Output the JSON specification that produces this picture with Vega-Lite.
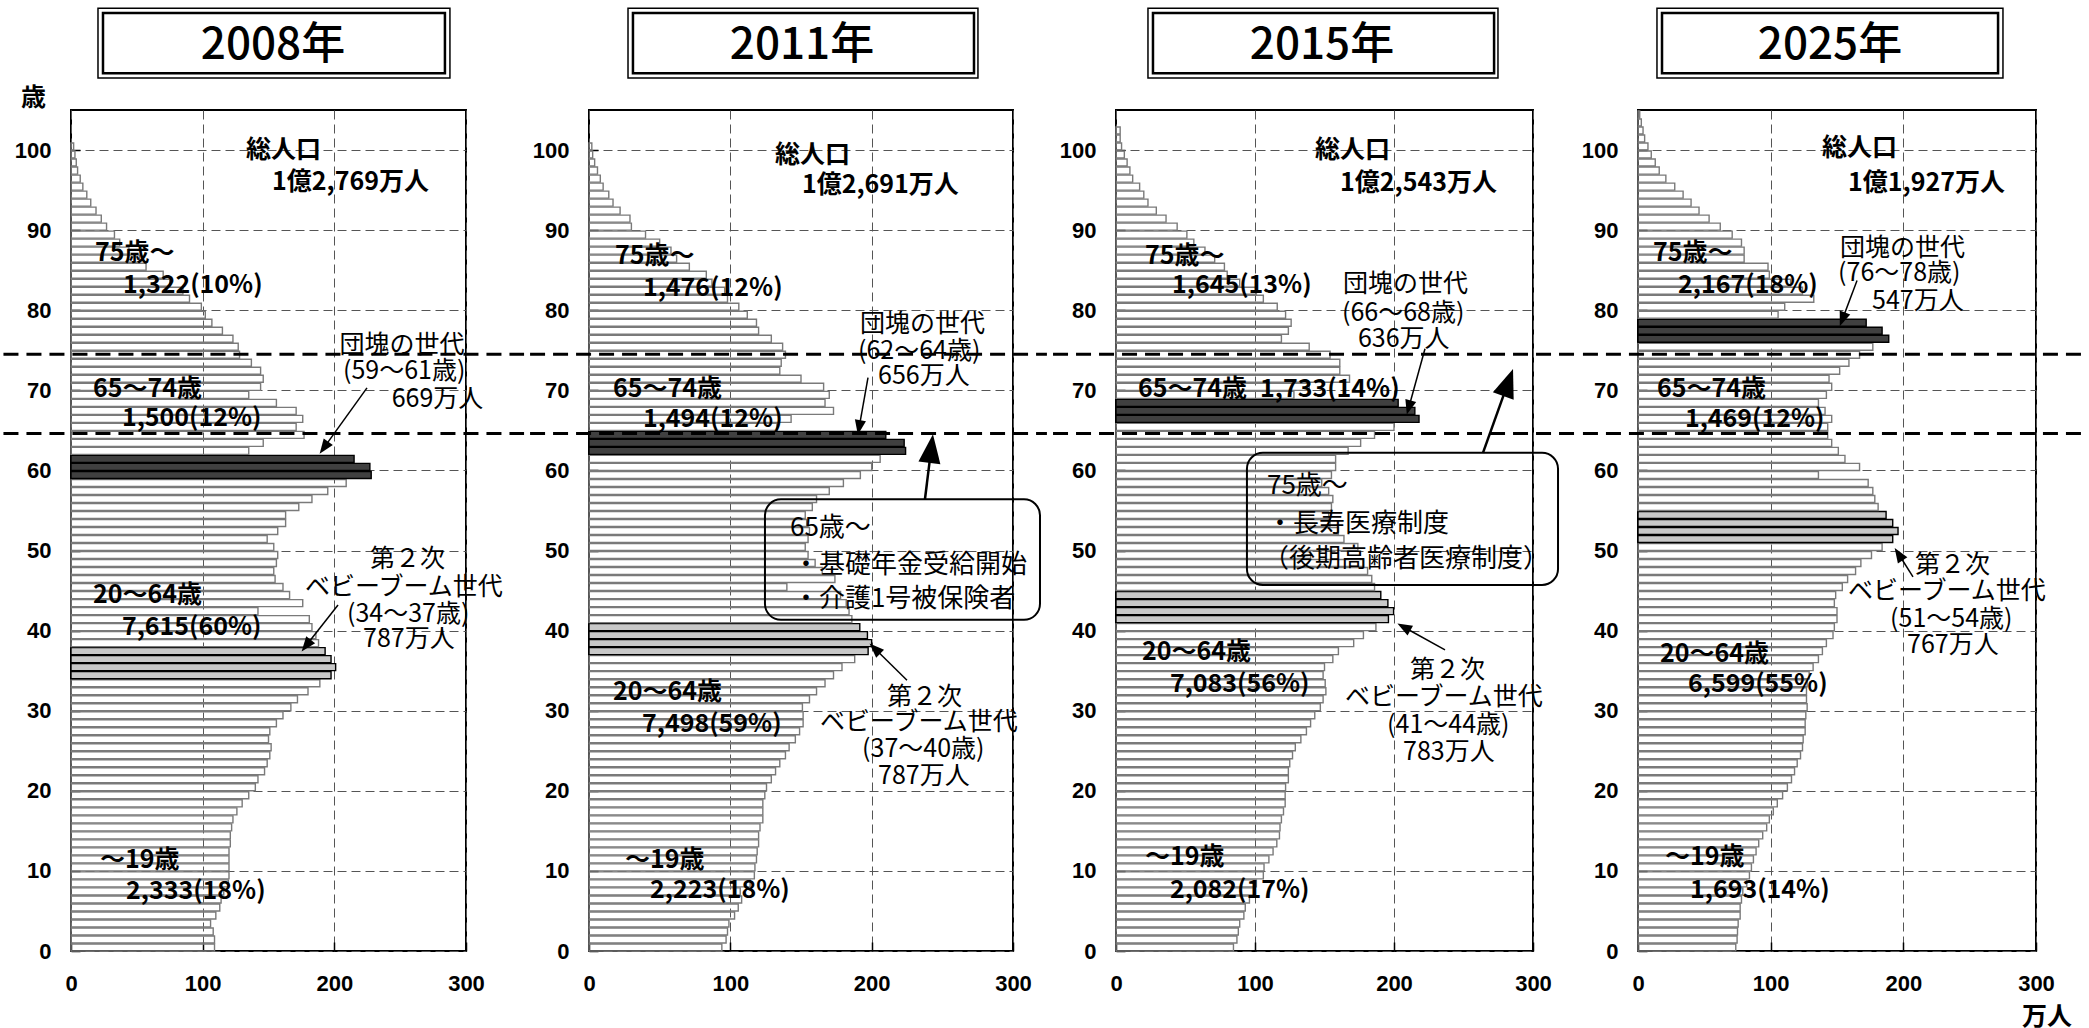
{
"$schema":"https://vega.github.io/schema/vega-lite/v6.json",
"background":"white",
"padding":{"left":0,"top":6,"right":0,"bottom":0},
"spacing":0,
"datasets":{
"p08":[{"a":0,"v":109,"g":"n"},{"a":1,"v":109,"g":"n"},{"a":2,"v":108,"g":"n"},{"a":3,"v":106,"g":"n"},{"a":4,"v":110,"g":"n"},{"a":5,"v":113,"g":"n"},{"a":6,"v":114,"g":"n"},{"a":7,"v":116,"g":"n"},{"a":8,"v":119.5,"g":"n"},{"a":9,"v":120,"g":"n"},
{"a":10,"v":120,"g":"n"},{"a":11,"v":120,"g":"n"},{"a":12,"v":120,"g":"n"},{"a":13,"v":121,"g":"n"},{"a":14,"v":121,"g":"n"},{"a":15,"v":122,"g":"n"},{"a":16,"v":123,"g":"n"},{"a":17,"v":126,"g":"n"},{"a":18,"v":130,"g":"n"},{"a":19,"v":135,"g":"n"},
{"a":20,"v":140,"g":"n"},{"a":21,"v":142,"g":"n"},{"a":22,"v":147,"g":"n"},{"a":23,"v":149,"g":"n"},{"a":24,"v":151,"g":"n"},{"a":25,"v":152,"g":"n"},{"a":26,"v":150,"g":"n"},{"a":27,"v":151,"g":"n"},{"a":28,"v":156,"g":"n"},{"a":29,"v":161,"g":"n"},
{"a":30,"v":167,"g":"n"},{"a":31,"v":172,"g":"n"},{"a":32,"v":180,"g":"n"},{"a":33,"v":189,"g":"n"},{"a":34,"v":197.5,"g":"l"},{"a":35,"v":201,"g":"l"},{"a":36,"v":197.5,"g":"l"},{"a":37,"v":193,"g":"l"},{"a":38,"v":188,"g":"n"},{"a":39,"v":186,"g":"n"},
{"a":40,"v":183,"g":"n"},{"a":41,"v":181,"g":"n"},{"a":42,"v":142,"g":"n"},{"a":43,"v":176,"g":"n"},{"a":44,"v":166,"g":"n"},{"a":45,"v":161,"g":"n"},{"a":46,"v":155,"g":"n"},{"a":47,"v":154,"g":"n"},{"a":48,"v":156,"g":"n"},{"a":49,"v":157,"g":"n"},
{"a":50,"v":154,"g":"n"},{"a":51,"v":149,"g":"n"},{"a":52,"v":157,"g":"n"},{"a":53,"v":163,"g":"n"},{"a":54,"v":163,"g":"n"},{"a":55,"v":173,"g":"n"},{"a":56,"v":183,"g":"n"},{"a":57,"v":195,"g":"n"},{"a":58,"v":209,"g":"n"},{"a":59,"v":228,"g":"d"},
{"a":60,"v":227,"g":"d"},{"a":61,"v":215,"g":"d"},{"a":62,"v":135,"g":"n"},{"a":63,"v":146,"g":"n"},{"a":64,"v":177,"g":"n"},{"a":65,"v":171,"g":"n"},{"a":66,"v":176,"g":"n"},{"a":67,"v":171,"g":"n"},{"a":68,"v":156,"g":"n"},{"a":69,"v":135,"g":"n"},
{"a":70,"v":144,"g":"n"},{"a":71,"v":146,"g":"n"},{"a":72,"v":144,"g":"n"},{"a":73,"v":137,"g":"n"},{"a":74,"v":128,"g":"n"},{"a":75,"v":127,"g":"n"},{"a":76,"v":123,"g":"n"},{"a":77,"v":115,"g":"n"},{"a":78,"v":107,"g":"n"},{"a":79,"v":102,"g":"n"},
{"a":80,"v":99,"g":"n"},{"a":81,"v":90,"g":"n"},{"a":82,"v":85,"g":"n"},{"a":83,"v":75,"g":"n"},{"a":84,"v":70,"g":"n"},{"a":85,"v":57,"g":"n"},{"a":86,"v":52,"g":"n"},{"a":87,"v":44,"g":"n"},{"a":88,"v":37,"g":"n"},{"a":89,"v":33,"g":"n"},
{"a":90,"v":27,"g":"n"},{"a":91,"v":23,"g":"n"},{"a":92,"v":19,"g":"n"},{"a":93,"v":15,"g":"n"},{"a":94,"v":12,"g":"n"},{"a":95,"v":9,"g":"n"},{"a":96,"v":7,"g":"n"},{"a":97,"v":5,"g":"n"},{"a":98,"v":4,"g":"n"},{"a":99,"v":3,"g":"n"},{"a":100,"v":2,"g":"n"}],
"p11":[{"a":0,"v":94,"g":"n"},{"a":1,"v":97,"g":"n"},{"a":2,"v":98,"g":"n"},{"a":3,"v":99,"g":"n"},{"a":4,"v":103,"g":"n"},{"a":5,"v":105.6,"g":"n"},{"a":6,"v":108,"g":"n"},{"a":7,"v":107,"g":"n"},{"a":8,"v":114,"g":"n"},{"a":9,"v":117,"g":"n"},
{"a":10,"v":117.4,"g":"n"},{"a":11,"v":118.5,"g":"n"},{"a":12,"v":119,"g":"n"},{"a":13,"v":120,"g":"n"},{"a":14,"v":120,"g":"n"},{"a":15,"v":121,"g":"n"},{"a":16,"v":123,"g":"n"},{"a":17,"v":123,"g":"n"},{"a":18,"v":123,"g":"n"},{"a":19,"v":124.4,"g":"n"},
{"a":20,"v":125.6,"g":"n"},{"a":21,"v":129,"g":"n"},{"a":22,"v":132,"g":"n"},{"a":23,"v":135,"g":"n"},{"a":24,"v":139,"g":"n"},{"a":25,"v":141.6,"g":"n"},{"a":26,"v":146,"g":"n"},{"a":27,"v":149,"g":"n"},{"a":28,"v":151.5,"g":"n"},{"a":29,"v":151.5,"g":"n"},
{"a":30,"v":151,"g":"n"},{"a":31,"v":156,"g":"n"},{"a":32,"v":161,"g":"n"},{"a":33,"v":167,"g":"n"},{"a":34,"v":173,"g":"n"},{"a":35,"v":179,"g":"n"},{"a":36,"v":188,"g":"n"},{"a":37,"v":197.5,"g":"l"},{"a":38,"v":200,"g":"l"},{"a":39,"v":197,"g":"l"},
{"a":40,"v":191.6,"g":"l"},{"a":41,"v":186,"g":"n"},{"a":42,"v":184,"g":"n"},{"a":43,"v":182,"g":"n"},{"a":44,"v":178,"g":"n"},{"a":45,"v":140,"g":"n"},{"a":46,"v":174,"g":"n"},{"a":47,"v":165,"g":"n"},{"a":48,"v":160,"g":"n"},{"a":49,"v":155,"g":"n"},
{"a":50,"v":153,"g":"n"},{"a":51,"v":155,"g":"n"},{"a":52,"v":156,"g":"n"},{"a":53,"v":154,"g":"n"},{"a":54,"v":153,"g":"n"},{"a":55,"v":158,"g":"n"},{"a":56,"v":161,"g":"n"},{"a":57,"v":170,"g":"n"},{"a":58,"v":180,"g":"n"},{"a":59,"v":192,"g":"n"},
{"a":60,"v":200,"g":"n"},{"a":61,"v":206,"g":"n"},{"a":62,"v":224,"g":"d"},{"a":63,"v":223,"g":"d"},{"a":64,"v":210,"g":"d"},{"a":65,"v":133,"g":"n"},{"a":66,"v":143,"g":"n"},{"a":67,"v":173,"g":"n"},{"a":68,"v":167,"g":"n"},{"a":69,"v":170,"g":"n"},
{"a":70,"v":166,"g":"n"},{"a":71,"v":150,"g":"n"},{"a":72,"v":135,"g":"n"},{"a":73,"v":136,"g":"n"},{"a":74,"v":139,"g":"n"},{"a":75,"v":137,"g":"n"},{"a":76,"v":129,"g":"n"},{"a":77,"v":120,"g":"n"},{"a":78,"v":118.5,"g":"n"},{"a":79,"v":112,"g":"n"},
{"a":80,"v":106,"g":"n"},{"a":81,"v":98,"g":"n"},{"a":82,"v":96,"g":"n"},{"a":83,"v":87,"g":"n"},{"a":84,"v":83,"g":"n"},{"a":85,"v":71,"g":"n"},{"a":86,"v":62,"g":"n"},{"a":87,"v":58,"g":"n"},{"a":88,"v":50,"g":"n"},{"a":89,"v":40,"g":"n"},
{"a":90,"v":30,"g":"n"},{"a":91,"v":29,"g":"n"},{"a":92,"v":22,"g":"n"},{"a":93,"v":17,"g":"n"},{"a":94,"v":14,"g":"n"},{"a":95,"v":10,"g":"n"},{"a":96,"v":8,"g":"n"},{"a":97,"v":6,"g":"n"},{"a":98,"v":4,"g":"n"},{"a":99,"v":2.6,"g":"n"},{"a":100,"v":2,"g":"n"}],
"p15":[{"a":0,"v":84.5,"g":"n"},{"a":1,"v":87,"g":"n"},{"a":2,"v":88,"g":"n"},{"a":3,"v":89,"g":"n"},{"a":4,"v":92,"g":"n"},{"a":5,"v":93,"g":"n"},{"a":6,"v":96,"g":"n"},{"a":7,"v":99,"g":"n"},{"a":8,"v":101,"g":"n"},{"a":9,"v":106,"g":"n"},
{"a":10,"v":106.5,"g":"n"},{"a":11,"v":110,"g":"n"},{"a":12,"v":113,"g":"n"},{"a":13,"v":115.7,"g":"n"},{"a":14,"v":117.6,"g":"n"},{"a":15,"v":118,"g":"n"},{"a":16,"v":119,"g":"n"},{"a":17,"v":120.5,"g":"n"},{"a":18,"v":121.7,"g":"n"},{"a":19,"v":121.7,"g":"n"},
{"a":20,"v":122,"g":"n"},{"a":21,"v":124,"g":"n"},{"a":22,"v":124,"g":"n"},{"a":23,"v":125,"g":"n"},{"a":24,"v":127,"g":"n"},{"a":25,"v":129,"g":"n"},{"a":26,"v":133,"g":"n"},{"a":27,"v":137,"g":"n"},{"a":28,"v":140,"g":"n"},{"a":29,"v":143,"g":"n"},
{"a":30,"v":147,"g":"n"},{"a":31,"v":149,"g":"n"},{"a":32,"v":151,"g":"n"},{"a":33,"v":150.5,"g":"n"},{"a":34,"v":149,"g":"n"},{"a":35,"v":150,"g":"n"},{"a":36,"v":156,"g":"n"},{"a":37,"v":160,"g":"n"},{"a":38,"v":171,"g":"n"},{"a":39,"v":178,"g":"n"},
{"a":40,"v":187,"g":"n"},{"a":41,"v":196,"g":"l"},{"a":42,"v":199.7,"g":"l"},{"a":43,"v":195.6,"g":"l"},{"a":44,"v":190.5,"g":"l"},{"a":45,"v":186,"g":"n"},{"a":46,"v":184,"g":"n"},{"a":47,"v":181,"g":"n"},{"a":48,"v":178,"g":"n"},{"a":49,"v":140,"g":"n"},
{"a":50,"v":174,"g":"n"},{"a":51,"v":164,"g":"n"},{"a":52,"v":160,"g":"n"},{"a":53,"v":154,"g":"n"},{"a":54,"v":153,"g":"n"},{"a":55,"v":155,"g":"n"},{"a":56,"v":156,"g":"n"},{"a":57,"v":153,"g":"n"},{"a":58,"v":148,"g":"n"},{"a":59,"v":155,"g":"n"},
{"a":60,"v":158,"g":"n"},{"a":61,"v":158,"g":"n"},{"a":62,"v":167,"g":"n"},{"a":63,"v":176,"g":"n"},{"a":64,"v":186,"g":"n"},{"a":65,"v":200,"g":"n"},{"a":66,"v":218,"g":"d"},{"a":67,"v":215,"g":"d"},{"a":68,"v":203,"g":"d"},{"a":69,"v":128,"g":"n"},
{"a":70,"v":139,"g":"n"},{"a":71,"v":168,"g":"n"},{"a":72,"v":161,"g":"n"},{"a":73,"v":161,"g":"n"},{"a":74,"v":154,"g":"n"},{"a":75,"v":139,"g":"n"},{"a":76,"v":119,"g":"n"},{"a":77,"v":124,"g":"n"},{"a":78,"v":126,"g":"n"},{"a":79,"v":122,"g":"n"},
{"a":80,"v":116,"g":"n"},{"a":81,"v":106,"g":"n"},{"a":82,"v":101,"g":"n"},{"a":83,"v":89,"g":"n"},{"a":84,"v":80,"g":"n"},{"a":85,"v":78,"g":"n"},{"a":86,"v":71,"g":"n"},{"a":87,"v":64,"g":"n"},{"a":88,"v":56,"g":"n"},{"a":89,"v":51,"g":"n"},
{"a":90,"v":44,"g":"n"},{"a":91,"v":36,"g":"n"},{"a":92,"v":29,"g":"n"},{"a":93,"v":23,"g":"n"},{"a":94,"v":20,"g":"n"},{"a":95,"v":17,"g":"n"},{"a":96,"v":12,"g":"n"},{"a":97,"v":10,"g":"n"},{"a":98,"v":8,"g":"n"},{"a":99,"v":6,"g":"n"},
{"a":100,"v":4,"g":"n"},{"a":101,"v":3,"g":"n"},{"a":102,"v":3,"g":"n"}],
"p25":[{"a":0,"v":73.7,"g":"n"},{"a":1,"v":74.7,"g":"n"},{"a":2,"v":75,"g":"n"},{"a":3,"v":75.5,"g":"n"},{"a":4,"v":77,"g":"n"},{"a":5,"v":77,"g":"n"},{"a":6,"v":78,"g":"n"},{"a":7,"v":79,"g":"n"},{"a":8,"v":82,"g":"n"},{"a":9,"v":84,"g":"n"},
{"a":10,"v":85.5,"g":"n"},{"a":11,"v":87,"g":"n"},{"a":12,"v":89,"g":"n"},{"a":13,"v":91,"g":"n"},{"a":14,"v":94,"g":"n"},{"a":15,"v":97,"g":"n"},{"a":16,"v":99,"g":"n"},{"a":17,"v":102,"g":"n"},{"a":18,"v":105,"g":"n"},{"a":19,"v":109,"g":"n"},
{"a":20,"v":112.6,"g":"n"},{"a":21,"v":115.7,"g":"n"},{"a":22,"v":118,"g":"n"},{"a":23,"v":120,"g":"n"},{"a":24,"v":122.5,"g":"n"},{"a":25,"v":124,"g":"n"},{"a":26,"v":124.5,"g":"n"},{"a":27,"v":126,"g":"n"},{"a":28,"v":126,"g":"n"},{"a":29,"v":126.5,"g":"n"},
{"a":30,"v":127.5,"g":"n"},{"a":31,"v":127,"g":"n"},{"a":32,"v":127,"g":"n"},{"a":33,"v":127.5,"g":"n"},{"a":34,"v":129,"g":"n"},{"a":35,"v":132,"g":"n"},{"a":36,"v":136,"g":"n"},{"a":37,"v":139,"g":"n"},{"a":38,"v":142,"g":"n"},{"a":39,"v":147,"g":"n"},
{"a":40,"v":148,"g":"n"},{"a":41,"v":150,"g":"n"},{"a":42,"v":150,"g":"n"},{"a":43,"v":148,"g":"n"},{"a":44,"v":149,"g":"n"},{"a":45,"v":154,"g":"n"},{"a":46,"v":158,"g":"n"},{"a":47,"v":164,"g":"n"},{"a":48,"v":168,"g":"n"},{"a":49,"v":176,"g":"n"},
{"a":50,"v":184,"g":"n"},{"a":51,"v":192,"g":"l"},{"a":52,"v":196,"g":"l"},{"a":53,"v":192,"g":"l"},{"a":54,"v":187,"g":"l"},{"a":55,"v":181,"g":"n"},{"a":56,"v":178.5,"g":"n"},{"a":57,"v":177,"g":"n"},{"a":58,"v":173.5,"g":"n"},{"a":59,"v":136,"g":"n"},
{"a":60,"v":167,"g":"n"},{"a":61,"v":156,"g":"n"},{"a":62,"v":151,"g":"n"},{"a":63,"v":146,"g":"n"},{"a":64,"v":143,"g":"n"},{"a":65,"v":143,"g":"n"},{"a":66,"v":146,"g":"n"},{"a":67,"v":141,"g":"n"},{"a":68,"v":136,"g":"n"},{"a":69,"v":142,"g":"n"},
{"a":70,"v":146,"g":"n"},{"a":71,"v":144,"g":"n"},{"a":72,"v":152,"g":"n"},{"a":73,"v":159,"g":"n"},{"a":74,"v":167,"g":"n"},{"a":75,"v":177,"g":"n"},{"a":76,"v":189,"g":"d"},{"a":77,"v":184,"g":"d"},{"a":78,"v":172,"g":"d"},{"a":79,"v":105.6,"g":"n"},
{"a":80,"v":110.6,"g":"n"},{"a":81,"v":132.5,"g":"n"},{"a":82,"v":124,"g":"n"},{"a":83,"v":115,"g":"n"},{"a":84,"v":99,"g":"n"},{"a":85,"v":98,"g":"n"},{"a":86,"v":80,"g":"n"},{"a":87,"v":80,"g":"n"},{"a":88,"v":78,"g":"n"},{"a":89,"v":71,"g":"n"},
{"a":90,"v":62,"g":"n"},{"a":91,"v":53.6,"g":"n"},{"a":92,"v":46,"g":"n"},{"a":93,"v":40,"g":"n"},{"a":94,"v":34,"g":"n"},{"a":95,"v":27.7,"g":"n"},{"a":96,"v":21,"g":"n"},{"a":97,"v":16,"g":"n"},{"a":98,"v":13,"g":"n"},{"a":99,"v":10,"g":"n"},
{"a":100,"v":7.5,"g":"n"},{"a":101,"v":5,"g":"n"},{"a":102,"v":3.8,"g":"n"},{"a":103,"v":2.5,"g":"n"},{"a":104,"v":1.3,"g":"n"}],
"dl":[{"p":"2008","x":-51.3,"x2":344.1,"y":64.6},{"p":"2008","x":-51.3,"x2":344.1,"y":74.5},
{"p":"2011","x":-41.7,"x2":324.0,"y":64.6},{"p":"2011","x":-41.7,"x2":324.0,"y":74.5},
{"p":"2015","x":-45.3,"x2":331.6,"y":64.6},{"p":"2015","x":-45.3,"x2":331.6,"y":74.5},
{"p":"2025","x":-41.5,"x2":338.9,"y":64.6},{"p":"2025","x":-41.5,"x2":338.9,"y":74.5}],
"ttl":[{"p":"2008","t":"2008年","tx":153.4,"ty":113.0,"ox1":20.5,"ox2":287.8,"oy1":117.7,"oy2":109.0,"ix1":24.3,"ix2":284,"iy1":117.1,"iy2":109.6},
{"p":"2011","t":"2011年","tx":150.7,"ty":113.0,"ox1":27.6,"ox2":275.2,"oy1":117.7,"oy2":109.0,"ix1":31.1,"ix2":272.4,"iy1":117.1,"iy2":109.6},
{"p":"2015","t":"2015年","tx":148.2,"ty":113.0,"ox1":23,"ox2":274.8,"oy1":117.7,"oy2":109.0,"ix1":26.6,"ix2":272,"iy1":117.1,"iy2":109.6},
{"p":"2025","t":"2025年","tx":144.7,"ty":113.0,"ox1":14.3,"ox2":275.1,"oy1":117.7,"oy2":109.0,"ix1":18.1,"ix2":271.4,"iy1":117.1,"iy2":109.6}],
"box":[{"p":"2011","x":124.5,"x2":319.1,"y":56.4,"y2":41.35},{"p":"2015","x":94.2,"x2":318,"y":62.2,"y2":45.7}],
"arr":[{"p":"2008","x1":224.8,"y1":70.3,"x2":192.7,"y2":62.97,"ang":215.9,"k":"s"},
{"p":"2008","x1":202.8,"y1":43.2,"x2":179.2,"y2":38.26,"ang":218,"k":"s"},
{"p":"2011","x1":197.4,"y1":71.6,"x2":191.3,"y2":65.53,"ang":190.1,"k":"s"},
{"p":"2011","x1":225,"y1":33.8,"x2":202.9,"y2":37.64,"ang":314.2,"k":"s"},
{"p":"2011","x1":237.7,"y1":56.4,"x2":241.9,"y2":62.42,"ang":7,"k":"b"},
{"p":"2015","x1":222.3,"y1":75.2,"x2":210.9,"y2":68.01,"ang":195.5,"k":"s"},
{"p":"2015","x1":236.7,"y1":37.6,"x2":207.9,"y2":40.36,"ang":299,"k":"s"},
{"p":"2015","x1":264,"y1":62.2,"x2":281.5,"y2":70.68,"ang":19.7,"k":"b"},
{"p":"2025","x1":165.1,"y1":83.7,"x2":154.4,"y2":79.01,"ang":200.7,"k":"s"},
{"p":"2025","x1":207.3,"y1":46.7,"x2":197,"y2":49.41,"ang":327.3,"k":"s"}],
"lab":[
{"p":"2008","x":-38,"y":106.5,"t":"歳","w":"b"},
{"p":"2008","x":133,"y":100,"t":"総人口","w":"b"},
{"p":"2008","x":152.7,"y":96,"t":"1億2,769万人","w":"b"},
{"p":"2008","x":18.2,"y":87.1,"t":"75歳～","w":"b"},
{"p":"2008","x":39.5,"y":83.1,"t":"1,322(10%)","w":"b"},
{"p":"2008","x":16.7,"y":70.2,"t":"65～74歳","w":"b"},
{"p":"2008","x":38.7,"y":66.5,"t":"1,500(12%)","w":"b"},
{"p":"2008","x":16.7,"y":44.5,"t":"20～64歳","w":"b"},
{"p":"2008","x":38.7,"y":40.5,"t":"7,615(60%)","w":"b"},
{"p":"2008","x":22,"y":11.3,"t":"～19歳","w":"b"},
{"p":"2008","x":41.8,"y":7.5,"t":"2,333(18%)","w":"b"},
{"p":"2008","x":204,"y":75.6,"t":"団塊の世代","w":"n"},
{"p":"2008","x":206.6,"y":72.4,"t":"(59～61歳)","w":"n"},
{"p":"2008","x":243.6,"y":68.9,"t":"669万人","w":"n"},
{"p":"2008","x":227,"y":48.9,"t":"第２次","w":"n"},
{"p":"2008","x":177.7,"y":45.5,"t":"ベビーブーム世代","w":"n"},
{"p":"2008","x":209.6,"y":42.1,"t":"(34～37歳)","w":"n"},
{"p":"2008","x":221.8,"y":39,"t":"787万人","w":"n"},
{"p":"2011","x":131.6,"y":99.4,"t":"総人口","w":"b"},
{"p":"2011","x":150.7,"y":95.6,"t":"1億2,691万人","w":"b"},
{"p":"2011","x":18.4,"y":86.8,"t":"75歳～","w":"b"},
{"p":"2011","x":38.2,"y":82.8,"t":"1,476(12%)","w":"b"},
{"p":"2011","x":17,"y":70.2,"t":"65～74歳","w":"b"},
{"p":"2011","x":38.2,"y":66.4,"t":"1,494(12%)","w":"b"},
{"p":"2011","x":17,"y":32.3,"t":"20～64歳","w":"b"},
{"p":"2011","x":37.5,"y":28.3,"t":"7,498(59%)","w":"b"},
{"p":"2011","x":25.5,"y":11.4,"t":"～19歳","w":"b"},
{"p":"2011","x":43.2,"y":7.6,"t":"2,223(18%)","w":"b"},
{"p":"2011","x":191.7,"y":78.3,"t":"団塊の世代","w":"n"},
{"p":"2011","x":190.3,"y":74.9,"t":"(62～64歳)","w":"n"},
{"p":"2011","x":204.5,"y":71.8,"t":"656万人","w":"n"},
{"p":"2011","x":210.9,"y":31.7,"t":"第２次","w":"n"},
{"p":"2011","x":163.4,"y":28.6,"t":"ベビーブーム世代","w":"n"},
{"p":"2011","x":193.2,"y":25.2,"t":"(37～40歳)","w":"n"},
{"p":"2011","x":204.5,"y":21.9,"t":"787万人","w":"n"},
{"p":"2011","x":142.2,"y":52.8,"t":"65歳～","w":"x"},
{"p":"2011","x":144.3,"y":48.2,"t":"・基礎年金受給開始","w":"x"},
{"p":"2011","x":144.3,"y":44,"t":"・介護1号被保険者","w":"x"},
{"p":"2015","x":143.2,"y":100,"t":"総人口","w":"b"},
{"p":"2015","x":161.2,"y":95.9,"t":"1億2,543万人","w":"b"},
{"p":"2015","x":20.9,"y":86.8,"t":"75歳～","w":"b"},
{"p":"2015","x":40.3,"y":83.1,"t":"1,645(13%)","w":"b"},
{"p":"2015","x":15.8,"y":70.2,"t":"65～74歳","w":"b"},
{"p":"2015","x":103.6,"y":70.2,"t":"1,733(14%)","w":"b"},
{"p":"2015","x":18.7,"y":37.3,"t":"20～64歳","w":"b"},
{"p":"2015","x":38.8,"y":33.3,"t":"7,083(56%)","w":"b"},
{"p":"2015","x":20.9,"y":11.7,"t":"～19歳","w":"b"},
{"p":"2015","x":38.8,"y":7.6,"t":"2,082(17%)","w":"b"},
{"p":"2015","x":163.3,"y":83.3,"t":"団塊の世代","w":"n"},
{"p":"2015","x":162.6,"y":79.7,"t":"(66～68歳)","w":"n"},
{"p":"2015","x":174.1,"y":76.4,"t":"636万人","w":"n"},
{"p":"2015","x":211.5,"y":35.1,"t":"第２次","w":"n"},
{"p":"2015","x":164.7,"y":31.7,"t":"ベビーブーム世代","w":"n"},
{"p":"2015","x":195,"y":28.2,"t":"(41～44歳)","w":"n"},
{"p":"2015","x":206.5,"y":24.8,"t":"783万人","w":"n"},
{"p":"2015","x":108.6,"y":58,"t":"75歳～","w":"x"},
{"p":"2015","x":108.6,"y":53.3,"t":"・長寿医療制度","w":"x"},
{"p":"2015","x":105.8,"y":48.9,"t":"（後期高齢者医療制度）","w":"x"},
{"p":"2025","x":138.7,"y":100.3,"t":"総人口","w":"b"},
{"p":"2025","x":158.3,"y":95.9,"t":"1億1,927万人","w":"b"},
{"p":"2025","x":11.3,"y":87.1,"t":"75歳～","w":"b"},
{"p":"2025","x":30.2,"y":83.1,"t":"2,167(18%)","w":"b"},
{"p":"2025","x":14.3,"y":70.2,"t":"65～74歳","w":"b"},
{"p":"2025","x":35.4,"y":66.4,"t":"1,469(12%)","w":"b"},
{"p":"2025","x":16.6,"y":37.1,"t":"20～64歳","w":"b"},
{"p":"2025","x":37.7,"y":33.3,"t":"6,599(55%)","w":"b"},
{"p":"2025","x":20.4,"y":11.7,"t":"～19歳","w":"b"},
{"p":"2025","x":39.2,"y":7.6,"t":"1,693(14%)","w":"b"},
{"p":"2025","x":152.3,"y":87.8,"t":"団塊の世代","w":"n"},
{"p":"2025","x":150.8,"y":84.6,"t":"(76～78歳)","w":"n"},
{"p":"2025","x":176.4,"y":81.2,"t":"547万人","w":"n"},
{"p":"2025","x":208.8,"y":48.2,"t":"第２次","w":"n"},
{"p":"2025","x":158.3,"y":44.9,"t":"ベビーブーム世代","w":"n"},
{"p":"2025","x":190,"y":41.5,"t":"(51～54歳)","w":"n"},
{"p":"2025","x":202.8,"y":38.2,"t":"767万人","w":"n"},
{"p":"2025","x":289.4,"y":-8.2,"t":"万人","w":"b"}]
},
"hconcat":[
{"width":395,"height":841,"layer":[
{"data":{"name":"p08"},"mark":{"type":"bar","strokeWidth":1.4},"encoding":{"y":{"field":"a","type":"quantitative","bin":{"binned":true,"step":1},"scale":{"domain":[0,105],"nice":false,"zero":false},"axis":{"values":[0,10,20,30,40,50,60,70,80,90,100],"title":null}},"x":{"field":"v","type":"quantitative","scale":{"domain":[0,300],"nice":false},"axis":{"values":[0,100,200,300],"title":null}},"fill":{"field":"g","type":"nominal","scale":{"domain":["n","d","l"],"range":["rgba(255,255,255,0)","#404040","#c8c8c8"]},"legend":null},"stroke":{"field":"g","type":"nominal","scale":{"domain":["n","d","l"],"range":["#7a7a7a","#000000","#000000"]},"legend":null}}},
{"data":{"name":"dl"},"transform":[{"filter":"datum.p=='2008'"}],"mark":{"type":"rule","color":"#000","strokeWidth":3,"strokeDash":[15,8]},"encoding":{"x":{"field":"x","type":"quantitative","title":null},"x2":{"field":"x2"},"y":{"field":"y","type":"quantitative","title":null}}},
{"data":{"name":"ttl"},"transform":[{"filter":"datum.p=='2008'"}],"mark":{"type":"rect","fill":"#fff","stroke":"#000","strokeWidth":1.5},"encoding":{"x":{"field":"ox1","type":"quantitative","title":null},"x2":{"field":"ox2"},"y":{"field":"oy1","type":"quantitative","title":null},"y2":{"field":"oy2"}}},
{"data":{"name":"ttl"},"transform":[{"filter":"datum.p=='2008'"}],"mark":{"type":"rect","filled":false,"stroke":"#000","strokeWidth":2.5},"encoding":{"x":{"field":"ix1","type":"quantitative","title":null},"x2":{"field":"ix2"},"y":{"field":"iy1","type":"quantitative","title":null},"y2":{"field":"iy2"}}},
{"data":{"name":"ttl"},"transform":[{"filter":"datum.p=='2008'"}],"mark":{"type":"text","font":"Noto Sans CJK JP","fontWeight":500,"fontSize":44,"align":"center","baseline":"middle","color":"#000"},"encoding":{"x":{"field":"tx","type":"quantitative","title":null},"y":{"field":"ty","type":"quantitative","title":null},"text":{"field":"t"}}},
{"data":{"name":"arr"},"transform":[{"filter":"datum.p=='2008' && datum.k=='s'"}],"mark":{"type":"rule","color":"#000","strokeWidth":1.5},"encoding":{"x":{"field":"x1","type":"quantitative","title":null},"y":{"field":"y1","type":"quantitative","title":null},"x2":{"field":"x2"},"y2":{"field":"y2"}}},
{"data":{"name":"arr"},"transform":[{"filter":"datum.p=='2008' && datum.k=='s'"}],"mark":{"type":"point","filled":true,"color":"#000","opacity":1,"shape":"M0,-1L0.65,0.7L-0.65,0.7Z","size":300},"encoding":{"x":{"field":"x2","type":"quantitative","title":null},"y":{"field":"y2","type":"quantitative","title":null},"angle":{"field":"ang","type":"quantitative","scale":null}}},
{"data":{"name":"lab"},"transform":[{"filter":"datum.p=='2008' && datum.w=='b'"}],"mark":{"type":"text","font":"Noto Sans CJK JP","fontWeight":"bold","fontSize":25,"align":"left","baseline":"middle","color":"#000"},"encoding":{"x":{"field":"x","type":"quantitative","title":null},"y":{"field":"y","type":"quantitative","title":null},"text":{"field":"t"}}},
{"data":{"name":"lab"},"transform":[{"filter":"datum.p=='2008' && datum.w=='n'"}],"mark":{"type":"text","font":"Noto Sans CJK JP","fontSize":25,"align":"left","baseline":"middle","color":"#000"},"encoding":{"x":{"field":"x","type":"quantitative","title":null},"y":{"field":"y","type":"quantitative","title":null},"text":{"field":"t"}}}
]},
{"width":424,"height":841,"layer":[
{"data":{"name":"p11"},"mark":{"type":"bar","strokeWidth":1.4},"encoding":{"y":{"field":"a","type":"quantitative","bin":{"binned":true,"step":1},"scale":{"domain":[0,105],"nice":false,"zero":false},"axis":{"values":[0,10,20,30,40,50,60,70,80,90,100],"title":null}},"x":{"field":"v","type":"quantitative","scale":{"domain":[0,300],"nice":false},"axis":{"values":[0,100,200,300],"title":null}},"fill":{"field":"g","type":"nominal","scale":{"domain":["n","d","l"],"range":["rgba(255,255,255,0)","#404040","#c8c8c8"]},"legend":null},"stroke":{"field":"g","type":"nominal","scale":{"domain":["n","d","l"],"range":["#7a7a7a","#000000","#000000"]},"legend":null}}},
{"data":{"name":"dl"},"transform":[{"filter":"datum.p=='2011'"}],"mark":{"type":"rule","color":"#000","strokeWidth":3,"strokeDash":[15,8]},"encoding":{"x":{"field":"x","type":"quantitative","title":null},"x2":{"field":"x2"},"y":{"field":"y","type":"quantitative","title":null}}},
{"data":{"name":"ttl"},"transform":[{"filter":"datum.p=='2011'"}],"mark":{"type":"rect","fill":"#fff","stroke":"#000","strokeWidth":1.5},"encoding":{"x":{"field":"ox1","type":"quantitative","title":null},"x2":{"field":"ox2"},"y":{"field":"oy1","type":"quantitative","title":null},"y2":{"field":"oy2"}}},
{"data":{"name":"ttl"},"transform":[{"filter":"datum.p=='2011'"}],"mark":{"type":"rect","filled":false,"stroke":"#000","strokeWidth":2.5},"encoding":{"x":{"field":"ix1","type":"quantitative","title":null},"x2":{"field":"ix2"},"y":{"field":"iy1","type":"quantitative","title":null},"y2":{"field":"iy2"}}},
{"data":{"name":"ttl"},"transform":[{"filter":"datum.p=='2011'"}],"mark":{"type":"text","font":"Noto Sans CJK JP","fontWeight":500,"fontSize":44,"align":"center","baseline":"middle","color":"#000"},"encoding":{"x":{"field":"tx","type":"quantitative","title":null},"y":{"field":"ty","type":"quantitative","title":null},"text":{"field":"t"}}},
{"data":{"name":"box"},"transform":[{"filter":"datum.p=='2011'"}],"mark":{"type":"rect","filled":false,"stroke":"#000","strokeWidth":2,"cornerRadius":16},"encoding":{"x":{"field":"x","type":"quantitative","title":null},"x2":{"field":"x2"},"y":{"field":"y","type":"quantitative","title":null},"y2":{"field":"y2"}}},
{"data":{"name":"arr"},"transform":[{"filter":"datum.p=='2011' && datum.k=='s'"}],"mark":{"type":"rule","color":"#000","strokeWidth":1.5},"encoding":{"x":{"field":"x1","type":"quantitative","title":null},"y":{"field":"y1","type":"quantitative","title":null},"x2":{"field":"x2"},"y2":{"field":"y2"}}},
{"data":{"name":"arr"},"transform":[{"filter":"datum.p=='2011' && datum.k=='b'"}],"mark":{"type":"rule","color":"#000","strokeWidth":2.5},"encoding":{"x":{"field":"x1","type":"quantitative","title":null},"y":{"field":"y1","type":"quantitative","title":null},"x2":{"field":"x2"},"y2":{"field":"y2"}}},
{"data":{"name":"arr"},"transform":[{"filter":"datum.p=='2011' && datum.k=='s'"}],"mark":{"type":"point","filled":true,"color":"#000","opacity":1,"shape":"M0,-1L0.65,0.7L-0.65,0.7Z","size":300},"encoding":{"x":{"field":"x2","type":"quantitative","title":null},"y":{"field":"y2","type":"quantitative","title":null},"angle":{"field":"ang","type":"quantitative","scale":null}}},
{"data":{"name":"arr"},"transform":[{"filter":"datum.p=='2011' && datum.k=='b'"}],"mark":{"type":"point","filled":true,"color":"#000","opacity":1,"shape":"M0,-1L0.65,0.7L-0.65,0.7Z","size":1156},"encoding":{"x":{"field":"x2","type":"quantitative","title":null},"y":{"field":"y2","type":"quantitative","title":null},"angle":{"field":"ang","type":"quantitative","scale":null}}},
{"data":{"name":"lab"},"transform":[{"filter":"datum.p=='2011' && datum.w=='b'"}],"mark":{"type":"text","font":"Noto Sans CJK JP","fontWeight":"bold","fontSize":25,"align":"left","baseline":"middle","color":"#000"},"encoding":{"x":{"field":"x","type":"quantitative","title":null},"y":{"field":"y","type":"quantitative","title":null},"text":{"field":"t"}}},
{"data":{"name":"lab"},"transform":[{"filter":"datum.p=='2011' && datum.w=='n'"}],"mark":{"type":"text","font":"Noto Sans CJK JP","fontSize":25,"align":"left","baseline":"middle","color":"#000"},"encoding":{"x":{"field":"x","type":"quantitative","title":null},"y":{"field":"y","type":"quantitative","title":null},"text":{"field":"t"}}},
{"data":{"name":"lab"},"transform":[{"filter":"datum.p=='2011' && datum.w=='x'"}],"mark":{"type":"text","font":"Noto Sans CJK JP","fontSize":26,"align":"left","baseline":"middle","color":"#000"},"encoding":{"x":{"field":"x","type":"quantitative","title":null},"y":{"field":"y","type":"quantitative","title":null},"text":{"field":"t"}}}
]},
{"width":417,"height":841,"layer":[
{"data":{"name":"p15"},"mark":{"type":"bar","strokeWidth":1.4},"encoding":{"y":{"field":"a","type":"quantitative","bin":{"binned":true,"step":1},"scale":{"domain":[0,105],"nice":false,"zero":false},"axis":{"values":[0,10,20,30,40,50,60,70,80,90,100],"title":null}},"x":{"field":"v","type":"quantitative","scale":{"domain":[0,300],"nice":false},"axis":{"values":[0,100,200,300],"title":null}},"fill":{"field":"g","type":"nominal","scale":{"domain":["n","d","l"],"range":["rgba(255,255,255,0)","#404040","#c8c8c8"]},"legend":null},"stroke":{"field":"g","type":"nominal","scale":{"domain":["n","d","l"],"range":["#7a7a7a","#000000","#000000"]},"legend":null}}},
{"data":{"name":"dl"},"transform":[{"filter":"datum.p=='2015'"}],"mark":{"type":"rule","color":"#000","strokeWidth":3,"strokeDash":[15,8]},"encoding":{"x":{"field":"x","type":"quantitative","title":null},"x2":{"field":"x2"},"y":{"field":"y","type":"quantitative","title":null}}},
{"data":{"name":"ttl"},"transform":[{"filter":"datum.p=='2015'"}],"mark":{"type":"rect","fill":"#fff","stroke":"#000","strokeWidth":1.5},"encoding":{"x":{"field":"ox1","type":"quantitative","title":null},"x2":{"field":"ox2"},"y":{"field":"oy1","type":"quantitative","title":null},"y2":{"field":"oy2"}}},
{"data":{"name":"ttl"},"transform":[{"filter":"datum.p=='2015'"}],"mark":{"type":"rect","filled":false,"stroke":"#000","strokeWidth":2.5},"encoding":{"x":{"field":"ix1","type":"quantitative","title":null},"x2":{"field":"ix2"},"y":{"field":"iy1","type":"quantitative","title":null},"y2":{"field":"iy2"}}},
{"data":{"name":"ttl"},"transform":[{"filter":"datum.p=='2015'"}],"mark":{"type":"text","font":"Noto Sans CJK JP","fontWeight":500,"fontSize":44,"align":"center","baseline":"middle","color":"#000"},"encoding":{"x":{"field":"tx","type":"quantitative","title":null},"y":{"field":"ty","type":"quantitative","title":null},"text":{"field":"t"}}},
{"data":{"name":"box"},"transform":[{"filter":"datum.p=='2015'"}],"mark":{"type":"rect","filled":false,"stroke":"#000","strokeWidth":2,"cornerRadius":16},"encoding":{"x":{"field":"x","type":"quantitative","title":null},"x2":{"field":"x2"},"y":{"field":"y","type":"quantitative","title":null},"y2":{"field":"y2"}}},
{"data":{"name":"arr"},"transform":[{"filter":"datum.p=='2015' && datum.k=='s'"}],"mark":{"type":"rule","color":"#000","strokeWidth":1.5},"encoding":{"x":{"field":"x1","type":"quantitative","title":null},"y":{"field":"y1","type":"quantitative","title":null},"x2":{"field":"x2"},"y2":{"field":"y2"}}},
{"data":{"name":"arr"},"transform":[{"filter":"datum.p=='2015' && datum.k=='b'"}],"mark":{"type":"rule","color":"#000","strokeWidth":2.5},"encoding":{"x":{"field":"x1","type":"quantitative","title":null},"y":{"field":"y1","type":"quantitative","title":null},"x2":{"field":"x2"},"y2":{"field":"y2"}}},
{"data":{"name":"arr"},"transform":[{"filter":"datum.p=='2015' && datum.k=='s'"}],"mark":{"type":"point","filled":true,"color":"#000","opacity":1,"shape":"M0,-1L0.65,0.7L-0.65,0.7Z","size":300},"encoding":{"x":{"field":"x2","type":"quantitative","title":null},"y":{"field":"y2","type":"quantitative","title":null},"angle":{"field":"ang","type":"quantitative","scale":null}}},
{"data":{"name":"arr"},"transform":[{"filter":"datum.p=='2015' && datum.k=='b'"}],"mark":{"type":"point","filled":true,"color":"#000","opacity":1,"shape":"M0,-1L0.65,0.7L-0.65,0.7Z","size":1156},"encoding":{"x":{"field":"x2","type":"quantitative","title":null},"y":{"field":"y2","type":"quantitative","title":null},"angle":{"field":"ang","type":"quantitative","scale":null}}},
{"data":{"name":"lab"},"transform":[{"filter":"datum.p=='2015' && datum.w=='b'"}],"mark":{"type":"text","font":"Noto Sans CJK JP","fontWeight":"bold","fontSize":25,"align":"left","baseline":"middle","color":"#000"},"encoding":{"x":{"field":"x","type":"quantitative","title":null},"y":{"field":"y","type":"quantitative","title":null},"text":{"field":"t"}}},
{"data":{"name":"lab"},"transform":[{"filter":"datum.p=='2015' && datum.w=='n'"}],"mark":{"type":"text","font":"Noto Sans CJK JP","fontSize":25,"align":"left","baseline":"middle","color":"#000"},"encoding":{"x":{"field":"x","type":"quantitative","title":null},"y":{"field":"y","type":"quantitative","title":null},"text":{"field":"t"}}},
{"data":{"name":"lab"},"transform":[{"filter":"datum.p=='2015' && datum.w=='x'"}],"mark":{"type":"text","font":"Noto Sans CJK JP","fontSize":26,"align":"left","baseline":"middle","color":"#000"},"encoding":{"x":{"field":"x","type":"quantitative","title":null},"y":{"field":"y","type":"quantitative","title":null},"text":{"field":"t"}}}
]},
{"width":398,"height":841,"layer":[
{"data":{"name":"p25"},"mark":{"type":"bar","strokeWidth":1.4},"encoding":{"y":{"field":"a","type":"quantitative","bin":{"binned":true,"step":1},"scale":{"domain":[0,105],"nice":false,"zero":false},"axis":{"values":[0,10,20,30,40,50,60,70,80,90,100],"title":null}},"x":{"field":"v","type":"quantitative","scale":{"domain":[0,300],"nice":false},"axis":{"values":[0,100,200,300],"title":null}},"fill":{"field":"g","type":"nominal","scale":{"domain":["n","d","l"],"range":["rgba(255,255,255,0)","#404040","#c8c8c8"]},"legend":null},"stroke":{"field":"g","type":"nominal","scale":{"domain":["n","d","l"],"range":["#7a7a7a","#000000","#000000"]},"legend":null}}},
{"data":{"name":"dl"},"transform":[{"filter":"datum.p=='2025'"}],"mark":{"type":"rule","color":"#000","strokeWidth":3,"strokeDash":[15,8]},"encoding":{"x":{"field":"x","type":"quantitative","title":null},"x2":{"field":"x2"},"y":{"field":"y","type":"quantitative","title":null}}},
{"data":{"name":"ttl"},"transform":[{"filter":"datum.p=='2025'"}],"mark":{"type":"rect","fill":"#fff","stroke":"#000","strokeWidth":1.5},"encoding":{"x":{"field":"ox1","type":"quantitative","title":null},"x2":{"field":"ox2"},"y":{"field":"oy1","type":"quantitative","title":null},"y2":{"field":"oy2"}}},
{"data":{"name":"ttl"},"transform":[{"filter":"datum.p=='2025'"}],"mark":{"type":"rect","filled":false,"stroke":"#000","strokeWidth":2.5},"encoding":{"x":{"field":"ix1","type":"quantitative","title":null},"x2":{"field":"ix2"},"y":{"field":"iy1","type":"quantitative","title":null},"y2":{"field":"iy2"}}},
{"data":{"name":"ttl"},"transform":[{"filter":"datum.p=='2025'"}],"mark":{"type":"text","font":"Noto Sans CJK JP","fontWeight":500,"fontSize":44,"align":"center","baseline":"middle","color":"#000"},"encoding":{"x":{"field":"tx","type":"quantitative","title":null},"y":{"field":"ty","type":"quantitative","title":null},"text":{"field":"t"}}},
{"data":{"name":"arr"},"transform":[{"filter":"datum.p=='2025' && datum.k=='s'"}],"mark":{"type":"rule","color":"#000","strokeWidth":1.5},"encoding":{"x":{"field":"x1","type":"quantitative","title":null},"y":{"field":"y1","type":"quantitative","title":null},"x2":{"field":"x2"},"y2":{"field":"y2"}}},
{"data":{"name":"arr"},"transform":[{"filter":"datum.p=='2025' && datum.k=='s'"}],"mark":{"type":"point","filled":true,"color":"#000","opacity":1,"shape":"M0,-1L0.65,0.7L-0.65,0.7Z","size":300},"encoding":{"x":{"field":"x2","type":"quantitative","title":null},"y":{"field":"y2","type":"quantitative","title":null},"angle":{"field":"ang","type":"quantitative","scale":null}}},
{"data":{"name":"lab"},"transform":[{"filter":"datum.p=='2025' && datum.w=='b'"}],"mark":{"type":"text","font":"Noto Sans CJK JP","fontWeight":"bold","fontSize":25,"align":"left","baseline":"middle","color":"#000"},"encoding":{"x":{"field":"x","type":"quantitative","title":null},"y":{"field":"y","type":"quantitative","title":null},"text":{"field":"t"}}},
{"data":{"name":"lab"},"transform":[{"filter":"datum.p=='2025' && datum.w=='n'"}],"mark":{"type":"text","font":"Noto Sans CJK JP","fontSize":25,"align":"left","baseline":"middle","color":"#000"},"encoding":{"x":{"field":"x","type":"quantitative","title":null},"y":{"field":"y","type":"quantitative","title":null},"text":{"field":"t"}}}
]}
],
"config":{
"view":{"stroke":"#000","strokeWidth":2},
"axis":{"grid":true,"gridColor":"#555","gridDash":[9,5],"gridWidth":1,"domain":false,"ticks":true,"tickSize":-9,"tickColor":"#000","tickWidth":1.5,"labelFont":"Liberation Sans","labelFontWeight":"bold","labelFontSize":22,"labelColor":"#000","labelFlush":false,"labelOverlap":false},
"axisX":{"labelPadding":31},
"axisY":{"labelPadding":29}
}
}
